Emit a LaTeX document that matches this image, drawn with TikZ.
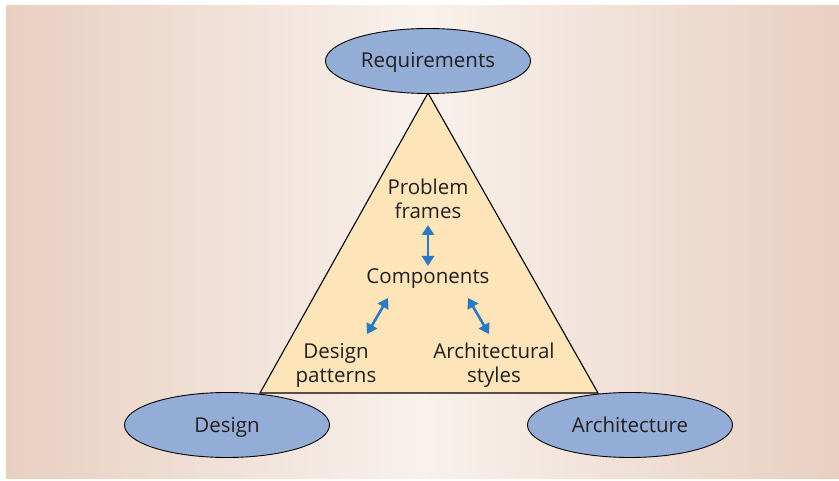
\documentclass[tikz,border=0pt]{standalone}
\usepackage{fontspec}
\setmainfont{Open Sans}
\usetikzlibrary{shapes.geometric,arrows.meta}
\definecolor{bgedge}{HTML}{E8CFC1}
\definecolor{bgmid}{HTML}{F8F1EC}
\definecolor{ellfill}{HTML}{93ADD7}
\definecolor{trifill}{HTML}{FDE4B9}
\definecolor{arrblue}{HTML}{2B79C1}
\definecolor{txt}{HTML}{231F20}
\tikzset{
  oval/.style={ellipse, draw=black, line width=0.9pt, fill=ellfill,
    minimum width=205pt, minimum height=65pt, inner sep=0pt,
    text height=18pt, text depth=4pt,
    font=\fontsize{20.5}{24}\selectfont, text=txt},
  lbl/.style={align=center, font=\fontsize{20.5}{24}\selectfont, text=txt, inner sep=0pt},
  biarrow/.style={{Triangle[width=12pt,length=10pt]}-{Triangle[width=12pt,length=10pt]},
    draw=arrblue, fill=arrblue, line width=2.6pt, shorten <=0pt, shorten >=0pt}
}
\begin{document}
\begin{tikzpicture}[x=1pt,y=-1pt]
\useasboundingbox (0,0) rectangle (839,481);
\fill[white] (0,0) rectangle (839,481);
\shade[left color=bgedge, right color=bgedge, middle color=bgmid] (6,6) rectangle (839,478);
\coordinate (apex) at (428,93);
\coordinate (bl) at (260,393);
\coordinate (br) at (598,393);
\draw[fill=trifill, line width=1.1pt, line join=miter] (apex) -- (br) -- (bl) -- cycle;
\node[oval] (req) at (428,61) {Requirements};
\node[oval] (des) at (227,425) {Design};
\node[oval] (arc) at (630,425) {Architecture};
\node[lbl] (pf) at (428,199) {Problem\\frames};
\node[lbl] (comp) at (428,279) {Components};
\node[lbl] (dp) at (336,365) {Design\\patterns};
\node[lbl] (as) at (494,365) {Architectural\\styles};
\coordinate (a1) at (428,225);
\coordinate (a2) at (428,266);
\coordinate (b1) at (388,298);
\coordinate (b2) at (367,334);
\coordinate (c1) at (468,298);
\coordinate (c2) at (489,334);
\draw[biarrow] (a1) -- (a2);
\draw[biarrow] (b1) -- (b2);
\draw[biarrow] (c1) -- (c2);
\end{tikzpicture}
\end{document}
